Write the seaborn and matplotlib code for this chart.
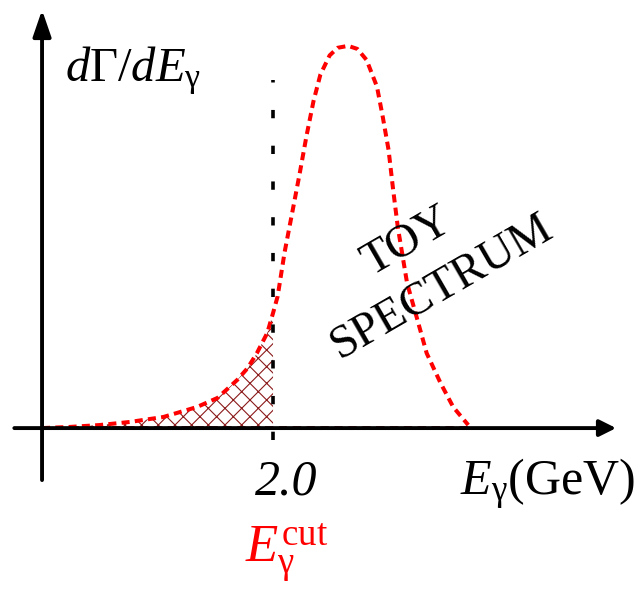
import matplotlib
matplotlib.use("Agg")
import matplotlib.pyplot as plt
import seaborn as sns
import numpy as np

# toy photon spectrum (E in GeV, rate in arbitrary units)
energy = [0.0, 0.24, 0.50, 0.76, 1.05, 1.34, 1.52, 1.69, 1.78, 1.86, 1.95, 2.00,
          2.04, 2.10, 2.17, 2.23, 2.29, 2.35, 2.41, 2.49, 2.56, 2.65, 2.73, 2.81,
          2.90, 2.95, 3.00, 3.04, 3.08, 3.16, 3.25, 3.33, 3.45, 3.56, 3.69]
rate = [0.0, 0.003, 0.008, 0.016, 0.029, 0.055, 0.079, 0.126, 0.157, 0.196, 0.249, 0.301,
        0.345, 0.46, 0.57, 0.665, 0.765, 0.855, 0.925, 0.975, 0.995, 1.0, 0.992, 0.963,
        0.893, 0.814, 0.728, 0.623, 0.526, 0.380, 0.283, 0.196, 0.118, 0.055, 0.008]
e_cut = 2.0
cut_label = "2.0"

sns.set_theme(style="white")
plt.rcParams["font.family"] = ["Liberation Serif", "DejaVu Serif"]
plt.rcParams["text.color"] = "black"
plt.rcParams["mathtext.fontset"] = "custom"
plt.rcParams["mathtext.rm"] = "Liberation Serif"
plt.rcParams["mathtext.it"] = "Liberation Serif:italic"
plt.rcParams["hatch.linewidth"] = 0.8

fig = plt.figure(figsize=(6.43, 5.89), dpi=100)
ax = fig.add_axes([0, 0, 1, 1])
ax.axis("off")
ax.set_xlim(-0.364, 5.203)
ax.set_ylim(-0.421, 1.120)

e = np.array(energy)
r = np.array(rate)

# hatched area below the cut
low = e <= e_cut
ax.fill_between(e[low], 0, r[low], facecolor="none", edgecolor="#8b1a1a",
                hatch="xx", linewidth=0, zorder=1)
ax.plot([e[1], e[-1]], [0.004, 0.004], color="#8b1a1a", lw=2,
        linestyle=(0, (3, 2)), zorder=2)

sns.lineplot(x=energy, y=rate, ax=ax, color="red", lw=2.9,
             linestyle=(0, (2, 1.3)), zorder=3)

# cut line
ax.plot([e_cut, e_cut], [-0.031, 0.911], color="black", lw=2.6,
        linestyle=(0, (2.3, 7.6)), zorder=3)

# axes as arrows
ax.annotate("", xy=(4.97, 0), xytext=(-0.24, 0),
            arrowprops=dict(arrowstyle="-|>,head_length=1.0,head_width=0.5",
                            lw=2.8, color="black", mutation_scale=10,
                            shrinkA=0, shrinkB=0), zorder=4)
ax.annotate("", xy=(0, 1.094), xytext=(0, -0.136),
            arrowprops=dict(arrowstyle="-|>,head_length=1.6,head_width=0.55",
                            lw=2.8, color="black", mutation_scale=10,
                            shrinkA=0, shrinkB=0), zorder=4)

ax.text(0.199, 0.906, r"$d\Gamma/dE_{\mathrm{\gamma}}$", fontsize=35,
        va="baseline", ha="left")
ax.text(2.113, -0.175, cut_label, fontsize=36, style="italic",
        va="baseline", ha="center")
ax.text(3.619, -0.175, r"$E_{\mathrm{\gamma}}$(GeV)", fontsize=36,
        va="baseline", ha="left")
ax.text(1.758, -0.353, r"$E_{\mathrm{\gamma}}^{\mathrm{cut}}$", fontsize=38,
        color="red", va="baseline", ha="left")
ax.text(3.16, 0.487, "TOY", fontsize=34, rotation=30, rotation_mode="anchor",
        ha="center", va="center")
ax.text(3.463, 0.369, "SPECTRUM", fontsize=34, rotation=30, rotation_mode="anchor",
        ha="center", va="center")

fig.savefig("out.png", dpi=100)
